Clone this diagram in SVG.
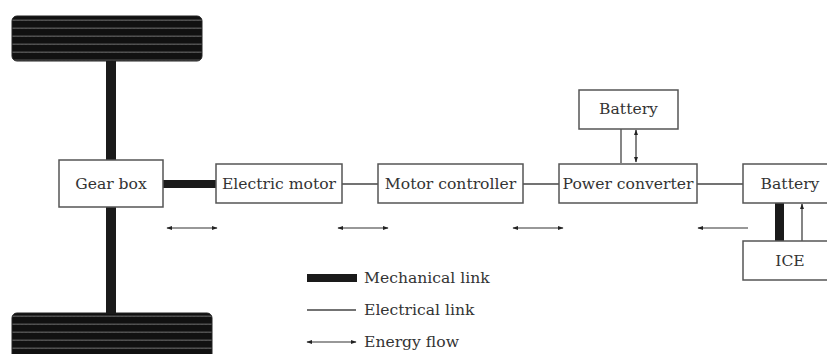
<svg xmlns="http://www.w3.org/2000/svg" width="827" height="354" viewBox="0 0 827 354">
<style>
.box{fill:#fff;stroke:#555;stroke-width:1.5}
.lbl{font-family:"DejaVu Serif","Liberation Serif",serif;font-size:15.6px;fill:#333;text-anchor:middle}
.leg{font-family:"DejaVu Serif","Liberation Serif",serif;font-size:15.6px;fill:#333}
.mech{fill:#1a1a1a}
.elec{stroke:#444;stroke-width:1.3;fill:none}
.flow{stroke:#333;stroke-width:1.2;fill:none}
.wheel{fill:url(#tread);stroke:#222;stroke-width:1}
</style>
<defs>
<pattern id="tread" patternUnits="userSpaceOnUse" width="4" height="8">
<rect width="4" height="8" fill="#111"/>
<path d="M0 5 L1 3.5 L2 5 L3 3.5 L4 5" stroke="#777" stroke-width="0.7" fill="none"/>
</pattern>
<marker id="ah" viewBox="0 0 10 10" refX="9" refY="5" markerWidth="6" markerHeight="6" orient="auto-start-reverse" markerUnits="userSpaceOnUse">
<path d="M0 1.5 L10 5 L0 8.5 z" fill="#222"/>
</marker>
</defs>

<g id="wheel-top"><rect class="wheel" x="12" y="16" width="190" height="45" rx="5"/></g>
<g id="wheel-bottom"><rect class="wheel" x="12" y="313" width="200" height="50" rx="5"/></g>

<g id="connectors">
<rect class="mech" x="106" y="61" width="10" height="99"/>
<rect class="mech" x="106" y="207" width="10" height="106"/>
<rect class="mech" x="163" y="180" width="53" height="8"/>
<line class="elec" x1="342" y1="184" x2="378" y2="184"/>
<line class="elec" x1="523" y1="184" x2="559" y2="184"/>
<line class="elec" x1="697" y1="184" x2="743" y2="184"/>
<line class="elec" x1="621" y1="129" x2="621" y2="163"/>
<line class="flow" x1="636" y1="130" x2="636" y2="162" marker-start="url(#ah)" marker-end="url(#ah)"/>
<rect class="mech" x="775" y="203" width="9" height="38"/>
<line class="flow" x1="802" y1="241" x2="802" y2="204" marker-end="url(#ah)"/>
<line class="flow" x1="167" y1="228" x2="217" y2="228" marker-start="url(#ah)" marker-end="url(#ah)"/>
<line class="flow" x1="338" y1="228" x2="388" y2="228" marker-start="url(#ah)" marker-end="url(#ah)"/>
<line class="flow" x1="513" y1="228" x2="563" y2="228" marker-start="url(#ah)" marker-end="url(#ah)"/>
<line class="flow" x1="748" y1="228" x2="698" y2="228" marker-end="url(#ah)"/>
</g>

<g id="gearbox"><rect class="box" x="59" y="160" width="104" height="47"/><text class="lbl" x="111" y="189">Gear box</text></g>
<g id="electric-motor"><rect class="box" x="216" y="164" width="126" height="39"/><text class="lbl" x="279" y="189">Electric motor</text></g>
<g id="motor-controller"><rect class="box" x="378" y="164" width="145" height="39"/><text class="lbl" x="450.5" y="189">Motor controller</text></g>
<g id="power-converter"><rect class="box" x="559" y="164" width="138" height="39"/><text class="lbl" x="628" y="189">Power converter</text></g>
<g id="battery-top"><rect class="box" x="579" y="90" width="99" height="39"/><text class="lbl" x="628.5" y="114">Battery</text></g>
<g id="battery-right"><rect class="box" x="743" y="164" width="100" height="39"/><text class="lbl" x="790" y="189">Battery</text></g>
<g id="ice"><rect class="box" x="743" y="241" width="100" height="39"/><text class="lbl" x="790" y="266">ICE</text></g>

<g id="legend">
<rect class="mech" x="307" y="274" width="50" height="8"/>
<text class="leg" x="364" y="283">Mechanical link</text>
<line class="elec" x1="307" y1="310" x2="356" y2="310"/>
<text class="leg" x="364" y="315">Electrical link</text>
<line class="flow" x1="307" y1="342" x2="356" y2="342" marker-start="url(#ah)" marker-end="url(#ah)"/>
<text class="leg" x="364" y="347">Energy flow</text>
</g>
</svg>
